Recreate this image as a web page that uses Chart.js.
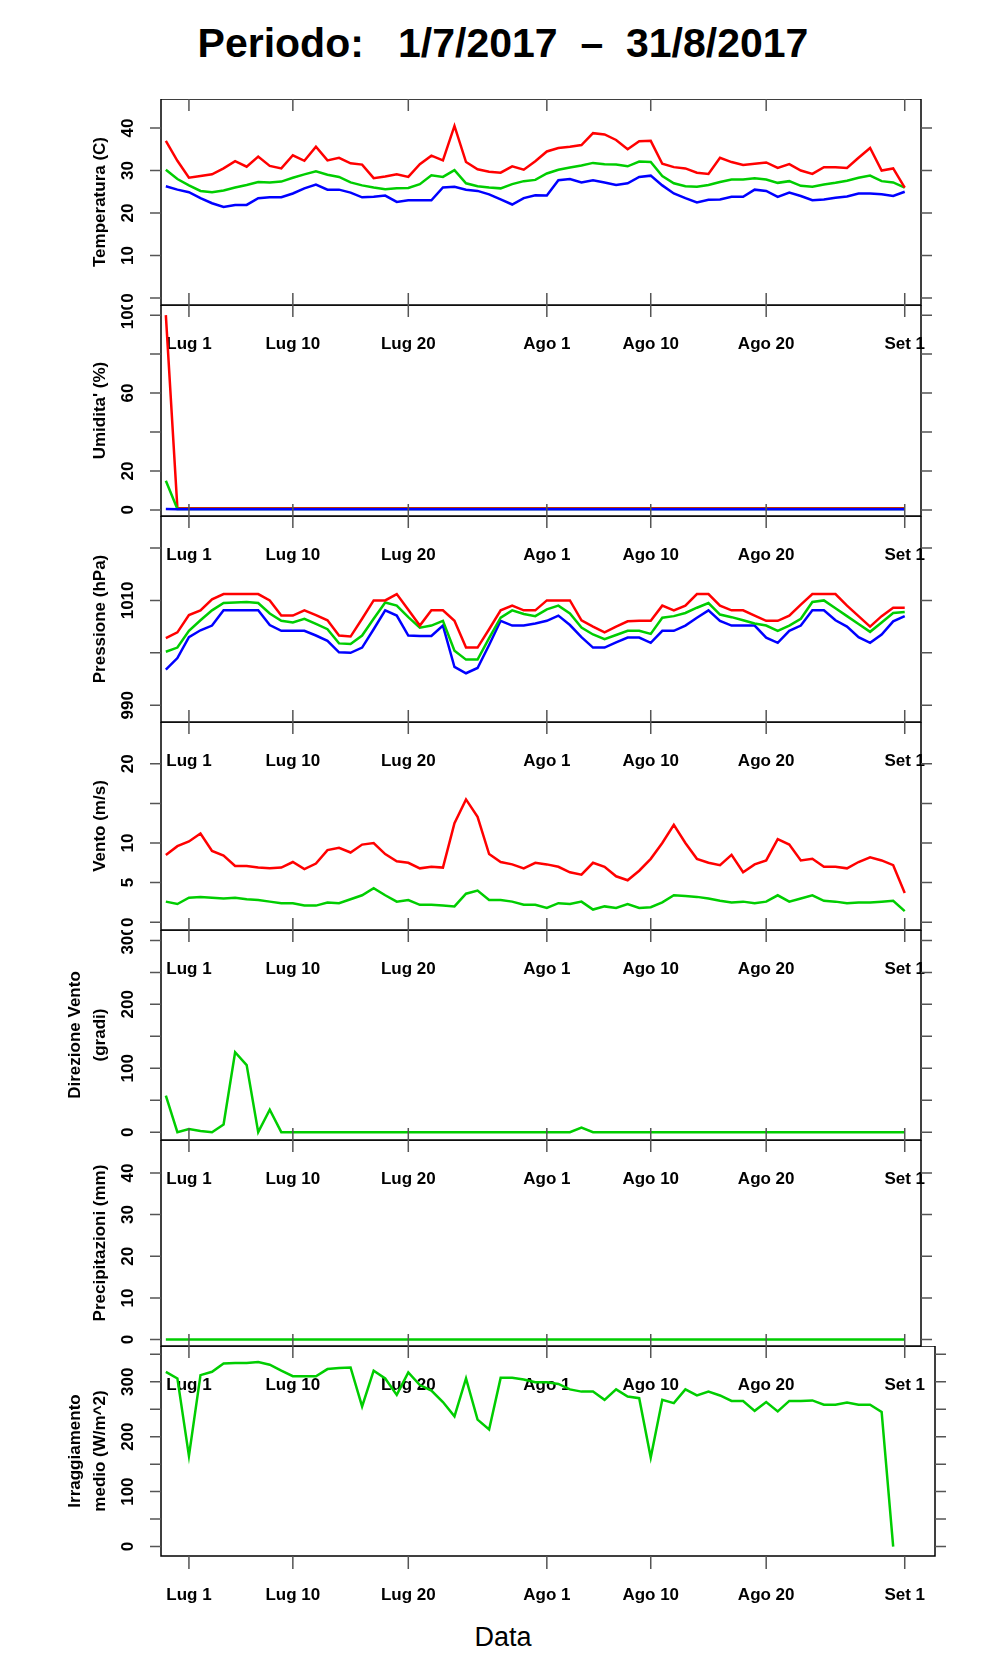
<!DOCTYPE html>
<html>
<head>
<meta charset="utf-8">
<script src="https://cdn.jsdelivr.net/npm/chart.js@4/dist/chart.umd.min.js"></script>
<style>
  body { margin: 0; background: #fff; }
  #wrap { position: relative; width: 996px; height: 1680px; overflow: hidden; }
  canvas { position: absolute; left: 0; }
  .title { position: absolute; left: 0; width: 1006px; text-align: center; top: 20px;
           font: bold 41px "Liberation Sans", Arial, sans-serif; white-space: pre; }
  .xlab { position: absolute; left: 0; width: 1006px; text-align: center; top: 1622px;
          font: 27px "Liberation Sans", Arial, sans-serif; }
</style>
</head>
<body>
<div id="wrap">
  <div class="title">Periodo:   1/7/2017  –  31/8/2017</div>
  <div class="xlab">Data</div>
</div>
<script>
// days counted from 1 July (0 = Lug 1), first sample is 29 June
const DAY0 = -2;
const tickDays = [0, 9, 19, 31, 40, 50, 62];
const tickLabels = ["Lug 1", "Lug 10", "Lug 20", "Ago 1", "Ago 10", "Ago 20", "Set 1"];

// Temperatura (C)
const tempMax = [37, 32.3, 28.3, 28.7, 29.1, 30.5, 32.2, 30.9, 33.3, 31.1, 30.5, 33.6, 32.3, 35.6, 32.4, 33.0, 31.7, 31.4, 28.2, 28.6, 29.1, 28.5, 31.5, 33.5, 32.4, 40.5, 32.0, 30.3, 29.7, 29.5, 31.0, 30.2, 32.2, 34.5, 35.3, 35.6, 36.0, 38.8, 38.5, 37.2, 35.0, 36.9, 37.0, 31.6, 30.8, 30.5, 29.5, 29.2, 33.0, 32.0, 31.3, 31.6, 31.9, 30.6, 31.5, 30.0, 29.2, 30.8, 30.8, 30.6, 33.0, 35.3, 30.0, 30.5, 26.0];
const tempMean = [30.2, 28.0, 26.5, 25.2, 24.9, 25.3, 26.0, 26.6, 27.3, 27.2, 27.4, 28.3, 29.1, 29.8, 29.0, 28.5, 27.2, 26.5, 26.0, 25.6, 25.8, 25.9, 26.8, 28.9, 28.5, 30.1, 27.0, 26.3, 26.0, 25.8, 26.8, 27.5, 27.8, 29.3, 30.2, 30.7, 31.2, 31.8, 31.5, 31.4, 31.0, 32.1, 32.0, 28.7, 27.0, 26.3, 26.2, 26.6, 27.3, 27.9, 27.9, 28.2, 27.9, 27.1, 27.5, 26.4, 26.2, 26.7, 27.1, 27.6, 28.3, 28.8, 27.5, 27.2, 26.0];
const tempMin = [26.3, 25.5, 24.9, 23.5, 22.3, 21.4, 21.9, 21.9, 23.5, 23.7, 23.7, 24.6, 25.8, 26.7, 25.5, 25.5, 24.8, 23.7, 23.8, 24.1, 22.6, 23.0, 23.0, 23.0, 26.0, 26.2, 25.5, 25.2, 24.4, 23.2, 22.0, 23.5, 24.2, 24.1, 27.7, 28.0, 27.2, 27.7, 27.2, 26.6, 27.0, 28.5, 28.8, 26.5, 24.6, 23.5, 22.5, 23.1, 23.2, 23.8, 23.8, 25.5, 25.2, 23.8, 24.8, 24.0, 23.0, 23.2, 23.6, 23.9, 24.6, 24.6, 24.4, 24.0, 25.0];

// Umidita' (%)
const humMax = [100, 0.8, 0.8, 0.8, 0.8, 0.8, 0.8, 0.8, 0.8, 0.8, 0.8, 0.8, 0.8, 0.8, 0.8, 0.8, 0.8, 0.8, 0.8, 0.8, 0.8, 0.8, 0.8, 0.8, 0.8, 0.8, 0.8, 0.8, 0.8, 0.8, 0.8, 0.8, 0.8, 0.8, 0.8, 0.8, 0.8, 0.8, 0.8, 0.8, 0.8, 0.8, 0.8, 0.8, 0.8, 0.8, 0.8, 0.8, 0.8, 0.8, 0.8, 0.8, 0.8, 0.8, 0.8, 0.8, 0.8, 0.8, 0.8, 0.8, 0.8, 0.8, 0.8, 0.8, 0.8];
const humMean = [15, 0.5, 0.5, 0.5, 0.5, 0.5, 0.5, 0.5, 0.5, 0.5, 0.5, 0.5, 0.5, 0.5, 0.5, 0.5, 0.5, 0.5, 0.5, 0.5, 0.5, 0.5, 0.5, 0.5, 0.5, 0.5, 0.5, 0.5, 0.5, 0.5, 0.5, 0.5, 0.5, 0.5, 0.5, 0.5, 0.5, 0.5, 0.5, 0.5, 0.5, 0.5, 0.5, 0.5, 0.5, 0.5, 0.5, 0.5, 0.5, 0.5, 0.5, 0.5, 0.5, 0.5, 0.5, 0.5, 0.5, 0.5, 0.5, 0.5, 0.5, 0.5, 0.5, 0.5, 0.5];
const humMin = [0.5, 0.3, 0.3, 0.3, 0.3, 0.3, 0.3, 0.3, 0.3, 0.3, 0.3, 0.3, 0.3, 0.3, 0.3, 0.3, 0.3, 0.3, 0.3, 0.3, 0.3, 0.3, 0.3, 0.3, 0.3, 0.3, 0.3, 0.3, 0.3, 0.3, 0.3, 0.3, 0.3, 0.3, 0.3, 0.3, 0.3, 0.3, 0.3, 0.3, 0.3, 0.3, 0.3, 0.3, 0.3, 0.3, 0.3, 0.3, 0.3, 0.3, 0.3, 0.3, 0.3, 0.3, 0.3, 0.3, 0.3, 0.3, 0.3, 0.3, 0.3, 0.3, 0.3, 0.3, 0.3];

// Pressione (hPa)
const presMax = [1002.8, 1003.9, 1007.2, 1008.1, 1010.2, 1011.2, 1011.2, 1011.2, 1011.2, 1010.0, 1007.1, 1007.1, 1008.1, 1007.2, 1006.2, 1003.3, 1003.1, 1006.5, 1010.0, 1010.0, 1011.2, 1008.2, 1005.2, 1008.1, 1008.1, 1006.1, 1001.0, 1001.0, 1004.5, 1008.1, 1009.0, 1008.1, 1008.1, 1010.0, 1010.0, 1010.0, 1006.2, 1005.0, 1003.9, 1005.0, 1006.0, 1006.1, 1006.1, 1009.0, 1008.1, 1009.0, 1011.2, 1011.2, 1009.0, 1008.1, 1008.1, 1007.1, 1006.1, 1006.1, 1007.1, 1009.2, 1011.2, 1011.2, 1011.2, 1009.0, 1007.0, 1005.0, 1007.0, 1008.6, 1008.6];
const presMean = [1000.2, 1001.0, 1004.2, 1006.2, 1008.1, 1009.5, 1009.6, 1009.7, 1009.5, 1007.5, 1006.1, 1005.8, 1006.5, 1005.5, 1004.5, 1001.8, 1001.7, 1003.3, 1006.5, 1009.6, 1009.0, 1006.8, 1004.8, 1005.2, 1006.1, 1000.4, 998.7, 998.7, 1002.8, 1006.7, 1008.1, 1007.4, 1007.0, 1008.3, 1009.0, 1007.5, 1004.8, 1003.5, 1002.6, 1003.4, 1004.2, 1004.2, 1003.6, 1006.7, 1007.0, 1007.6, 1008.6, 1009.5, 1007.3, 1006.8, 1006.2, 1005.6, 1005.2, 1004.2, 1005.2, 1006.5, 1009.7, 1010.0, 1008.5, 1007.0, 1005.5, 1004.0, 1005.8, 1007.6, 1007.8];
const presMin = [996.8, 999.0, 1003.0, 1004.3, 1005.2, 1008.1, 1008.1, 1008.1, 1008.1, 1005.3, 1004.2, 1004.2, 1004.2, 1003.3, 1002.3, 1000.1, 1000.0, 1001.0, 1004.5, 1008.1, 1007.1, 1003.3, 1003.2, 1003.2, 1005.2, 997.3, 996.1, 997.1, 1001.5, 1006.1, 1005.2, 1005.2, 1005.6, 1006.1, 1007.1, 1005.3, 1003.0, 1001.0, 1001.0, 1002.0, 1002.9, 1002.9, 1001.9, 1004.2, 1004.2, 1005.2, 1006.7, 1008.1, 1006.1, 1005.2, 1005.2, 1005.2, 1002.9, 1001.9, 1004.2, 1005.2, 1008.1, 1008.1, 1006.2, 1005.0, 1003.0, 1001.9, 1003.5, 1006.0, 1007.0];

// Vento (m/s)
const windMax = [8.5, 9.6, 10.2, 11.2, 9.0, 8.4, 7.1, 7.1, 6.9, 6.8, 6.9, 7.6, 6.7, 7.4, 9.1, 9.4, 8.8, 9.8, 10.0, 8.6, 7.7, 7.5, 6.8, 7.0, 6.9, 12.5, 15.5, 13.3, 8.6, 7.6, 7.3, 6.8, 7.5, 7.3, 7.0, 6.3, 6.0, 7.5, 7.0, 5.8, 5.3, 6.5, 8.0, 10.0, 12.3, 10.0, 8.0, 7.5, 7.2, 8.5, 6.3, 7.3, 7.8, 10.5, 9.8, 7.8, 8.0, 7.0, 7.0, 6.8, 7.6, 8.2, 7.8, 7.2, 3.7];
const windMean = [2.6, 2.3, 3.1, 3.2, 3.1, 3.0, 3.1, 2.9, 2.8, 2.6, 2.4, 2.4, 2.1, 2.1, 2.5, 2.4, 2.9, 3.4, 4.3, 3.4, 2.6, 2.8, 2.2, 2.2, 2.1, 2.0, 3.6, 4.0, 2.8, 2.8, 2.6, 2.2, 2.2, 1.8, 2.4, 2.3, 2.6, 1.6, 2.0, 1.8, 2.3, 1.8, 1.9, 2.5, 3.4, 3.3, 3.2, 3.0, 2.7, 2.5, 2.6, 2.4, 2.6, 3.4, 2.6, 3.0, 3.4, 2.7, 2.6, 2.4, 2.5, 2.5, 2.6, 2.7, 1.4];

// Direzione Vento (gradi)
const windDir = [57, 0, 5, 2, 0, 12, 125, 105, 0, 35, 0, 0, 0, 0, 0, 0, 0, 0, 0, 0, 0, 0, 0, 0, 0, 0, 0, 0, 0, 0, 0, 0, 0, 0, 0, 0, 7, 0, 0, 0, 0, 0, 0, 0, 0, 0, 0, 0, 0, 0, 0, 0, 0, 0, 0, 0, 0, 0, 0, 0, 0, 0, 0, 0, 0];

// Precipitazioni (mm)
const rain = [0, 0, 0, 0, 0, 0, 0, 0, 0, 0, 0, 0, 0, 0, 0, 0, 0, 0, 0, 0, 0, 0, 0, 0, 0, 0, 0, 0, 0, 0, 0, 0, 0, 0, 0, 0, 0, 0, 0, 0, 0, 0, 0, 0, 0, 0, 0, 0, 0, 0, 0, 0, 0, 0, 0, 0, 0, 0, 0, 0, 0, 0, 0, 0, 0];

// Irraggiamento medio (W/m^2)
const solar = [318, 306, 165, 312, 318, 333, 334, 334, 336, 331, 320, 310, 310, 310, 323, 325, 326, 255, 320, 306, 276, 317, 294, 284, 263, 237, 306, 231, 213, 307, 307, 304, 299, 299, 296, 286, 282, 282, 267, 286, 273, 270, 162, 267, 261, 286, 275, 282, 275, 265, 265, 247, 263, 246, 265, 265, 266, 258, 258, 262, 258, 258, 245, 0];

const RED = '#ff0000', GREEN = '#00cd00', BLUE = '#0000ff';
const FONT = '"Liberation Sans", Arial, sans-serif';
const LEFT = 161, PX_PER_DAY = 11.545, XMIN = -2.42;

const panels = [
  { top: 99, bottom: 305, right: 921, ymin: -1.67, ymax: 46.85, title: ["Temperatura (C)"],
    ticks: [0, 10, 20, 30, 40], labels: [0, 10, 20, 30, 40],
    series: [[tempMax, RED], [tempMean, GREEN], [tempMin, BLUE]] },
  { top: 305, bottom: 516, right: 921, ymin: -3.14, ymax: 105.2, title: ["Umidita' (%)"],
    ticks: [0, 20, 40, 60, 80, 100], labels: [0, 20, 60, 100],
    series: [[humMin, BLUE], [humMean, GREEN], [humMax, RED]] },
  { top: 516, bottom: 722, right: 921, ymin: 986.8, ymax: 1026.1, title: ["Pressione (hPa)"],
    ticks: [990, 1000, 1010, 1020], labels: [990, 1010],
    series: [[presMax, RED], [presMean, GREEN], [presMin, BLUE]] },
  { top: 722, bottom: 930, right: 921, ymin: -0.98, ymax: 25.27, title: ["Vento (m/s)"],
    ticks: [0, 5, 10, 15, 20], labels: [0, 5, 10, 20],
    series: [[windMax, RED], [windMean, GREEN]] },
  { top: 930, bottom: 1140, right: 921, ymin: -12.25, ymax: 316.3, title: ["Direzione Vento", "(gradi)"],
    ticks: [0, 50, 100, 150, 200, 250, 300], labels: [0, 100, 200, 300],
    series: [[windDir, GREEN]] },
  { top: 1140, bottom: 1346, right: 921, ymin: -1.53, ymax: 47.9, title: ["Precipitazioni (mm)"],
    ticks: [0, 10, 20, 30, 40], labels: [0, 10, 20, 30, 40],
    series: [[rain, GREEN]] },
  { top: 1346, bottom: 1556, right: 935, ymin: -17.2, ymax: 365, title: ["Irraggiamento", "medio (W/m^2)"],
    ticks: [0, 50, 100, 150, 200, 250, 300, 350], labels: [0, 100, 200, 300],
    series: [[solar, GREEN]], last: true }
];

// frame, ticks and text in the R base-graphics style
const rStyle = {
  id: 'rStyle',
  afterDraw(chart) {
    const p = chart.options.plugins.rStyle.panel;
    const ctx = chart.ctx, ca = chart.chartArea;
    const xs = chart.scales.x, ys = chart.scales.y;
    ctx.save();
    ctx.strokeStyle = '#000';
    ctx.fillStyle = '#000';
    ctx.lineWidth = 1.5;
    ctx.strokeRect(ca.left, ca.top, ca.right - ca.left, ca.bottom - ca.top);

    ctx.strokeStyle = '#555';
    ctx.lineWidth = 1.5;
    ctx.font = 'bold 17px ' + FONT;
    ctx.textAlign = 'center';
    ctx.textBaseline = 'middle';
    p.ticks.forEach(v => {
      const py = ys.getPixelForValue(v);
      ctx.beginPath();
      ctx.moveTo(ca.left - 11, py); ctx.lineTo(ca.left, py);
      ctx.moveTo(ca.right, py); ctx.lineTo(ca.right + 11, py);
      ctx.stroke();
      if (p.labels.includes(v)) {
        ctx.save();
        ctx.translate(128, py);
        ctx.rotate(-Math.PI / 2);
        ctx.fillText(String(v), 0, 0);
        ctx.restore();
      }
    });

    tickDays.forEach((d, i) => {
      const px = xs.getPixelForValue(d);
      ctx.beginPath();
      ctx.moveTo(px, ca.top); ctx.lineTo(px, ca.top + 12);
      if (p.last) { ctx.moveTo(px, ca.bottom); ctx.lineTo(px, ca.bottom + 13); }
      else { ctx.moveTo(px, ca.bottom - 12); ctx.lineTo(px, ca.bottom); }
      ctx.stroke();
      ctx.fillStyle = '#000';
      ctx.fillText(tickLabels[i], px, ca.bottom + 39);
    });

    const mid = (ca.top + ca.bottom) / 2;
    const xPos = p.title.length > 1 ? [75, 100] : [100];
    p.title.forEach((t, i) => {
      ctx.save();
      ctx.translate(xPos[i], mid);
      ctx.rotate(-Math.PI / 2);
      ctx.fillText(t, 0, 0);
      ctx.restore();
    });
    ctx.restore();
  }
};

const wrap = document.getElementById('wrap');
panels.forEach(p => {
  const c = document.createElement('canvas');
  const h = p.bottom - p.top + 60;
  c.width = 996; c.height = h;
  c.style.top = p.top + 'px';
  c.style.width = '996px'; c.style.height = h + 'px';
  wrap.appendChild(c);

  new Chart(c, {
    type: 'line',
    data: {
      datasets: p.series.map(([vals, col]) => ({
        data: vals.map((v, i) => ({ x: DAY0 + i, y: v })),
        borderColor: col,
        borderWidth: 2.5,
        pointRadius: 0,
        tension: 0,
        fill: false
      }))
    },
    options: {
      responsive: false,
      animation: false,
      devicePixelRatio: 1,
      layout: { padding: { left: LEFT, right: 996 - p.right, top: 0, bottom: 60 } },
      scales: {
        x: { type: 'linear', display: false, min: XMIN, max: XMIN + (p.right - LEFT) / PX_PER_DAY },
        y: { type: 'linear', display: false, min: p.ymin, max: p.ymax }
      },
      plugins: { legend: { display: false }, tooltip: { enabled: false }, rStyle: { panel: p } }
    },
    plugins: [rStyle]
  });
});
</script>
</body>
</html>
